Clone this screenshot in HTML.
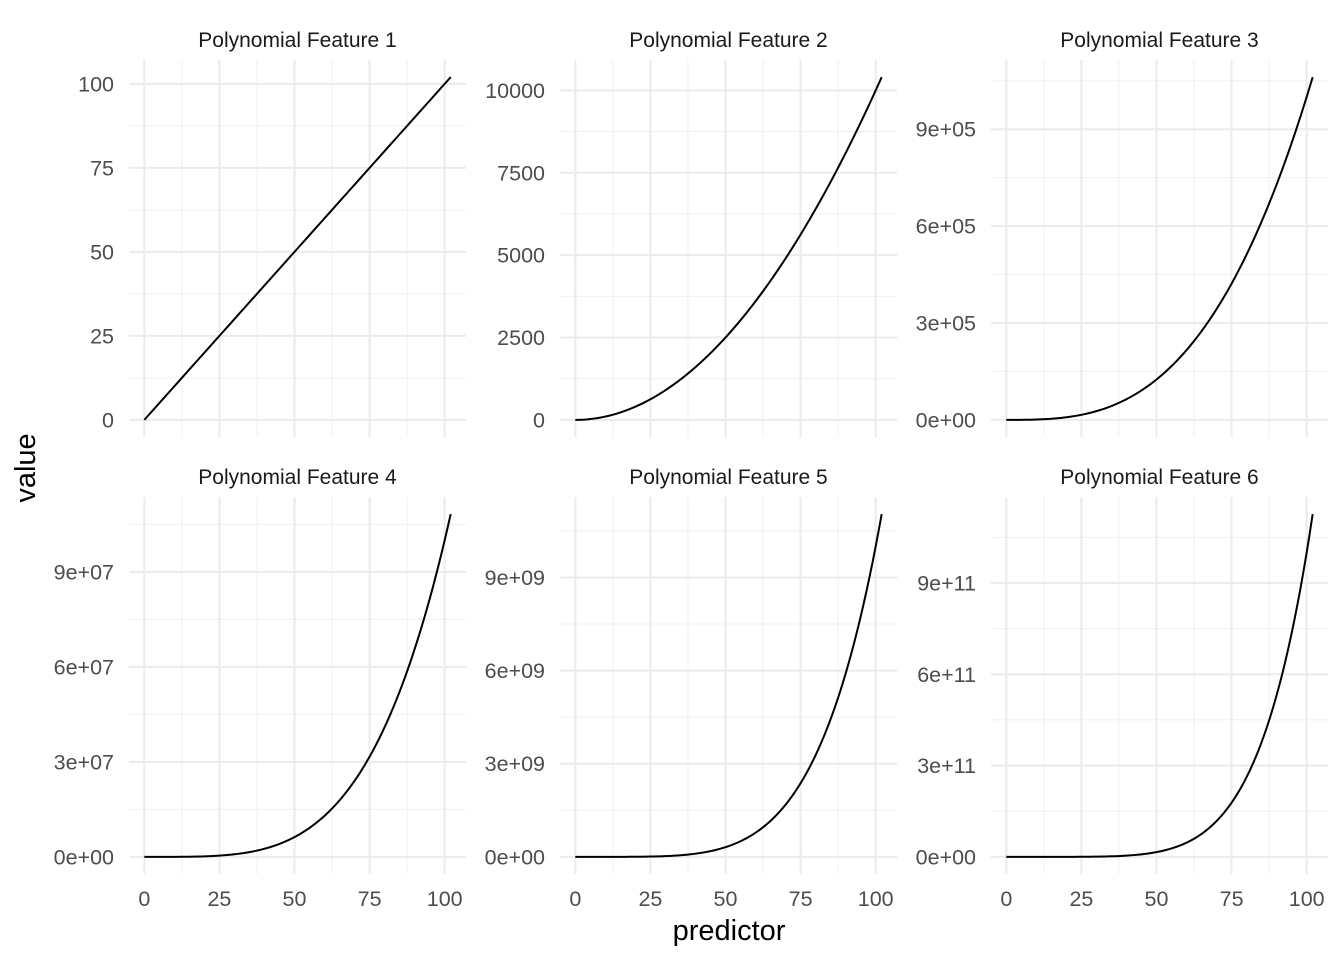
<!DOCTYPE html>
<html><head><meta charset="utf-8"><style>
body{margin:0;background:#fff}
svg text{font-family:"Liberation Sans",Arial,sans-serif}
</style></head><body>
<svg id="c" width="1344" height="960" xmlns="http://www.w3.org/2000/svg">
<text x="729" y="940" font-size="29" text-anchor="middle" fill="#000">predictor</text>
<text transform="translate(35,468) rotate(-90)" font-size="29" text-anchor="middle" fill="#000">value</text>
</svg>
<script>
const predictor = [0,1,2,3,4,5,6,7,8,9,10,11,12,13,14,15,16,17,18,19,20,21,22,23,24,25,26,27,28,29,30,31,32,33,34,35,36,37,38,39,40,41,42,43,44,45,46,47,48,49,50,51,52,53,54,55,56,57,58,59,60,61,62,63,64,65,66,67,68,69,70,71,72,73,74,75,76,77,78,79,80,81,82,83,84,85,86,87,88,89,90,91,92,93,94,95,96,97,98,99,100,101,102];
const degrees = [1,2,3,4,5,6];
const panelTitles = ["Polynomial Feature 1","Polynomial Feature 2","Polynomial Feature 3","Polynomial Feature 4","Polynomial Feature 5","Polynomial Feature 6"];
const xTicks = [0,25,50,75,100];
const yTickValues = [[0,25,50,75,100],[0,2500,5000,7500,10000],[0,3e5,6e5,9e5],[0,3e7,6e7,9e7],[0,3e9,6e9,9e9],[0,3e11,6e11,9e11]];
const yTickLabels = [["0","25","50","75","100"],["0","2500","5000","7500","10000"],["0e+00","3e+05","6e+05","9e+05"],["0e+00","3e+07","6e+07","9e+07"],["0e+00","3e+09","6e+09","9e+09"],["0e+00","3e+11","6e+11","9e+11"]];

const NS="http://www.w3.org/2000/svg", svg=document.getElementById('c');
function mk(t,a,p){const e=document.createElementNS(NS,t);for(const k in a)e.setAttribute(k,a[k]);(p||svg).appendChild(e);return e;}
const lefts=[129,560,991], W=337, tops=[60,497], H=377;
degrees.forEach((d,i)=>{
  const L=lefts[i%3], T=tops[Math.floor(i/3)];
  const ys=predictor.map(x=>Math.pow(x,d));
  const xmin=Math.min(...predictor), xmax=Math.max(...predictor);
  const ymin=Math.min(...ys), ymax=Math.max(...ys);
  const xr=xmax-xmin, yr=ymax-ymin;
  const X=v=>L+(v-(xmin-0.05*xr))/(1.1*xr)*W;
  const Y=v=>T+H-(v-(ymin-0.05*yr))/(1.1*yr)*H;
  const g=mk('g',{});
  
  
  const yt=yTickValues[i], step=yt[1]-yt[0];
  for(let k=-1;k<yt.length+1;k++){const v=yt[0]+step*(k+0.5);const y=Y(v);if(y>T&&y<T+H){const l=mk('line',{x1:L,x2:L+W,y1:y,y2:y,stroke:'#f0f0f0','stroke-width':1},g);}}
  const xs=xTicks[1]-xTicks[0];
  for(let k=-1;k<xTicks.length+1;k++){const v=xTicks[0]+xs*(k+0.5);const x=X(v);if(x>L&&x<L+W){const l=mk('line',{x1:x,x2:x,y1:T,y2:T+H,stroke:'#f0f0f0','stroke-width':1},g);}}
  yt.forEach((v,k)=>{const y=Y(v);
    const l=mk('line',{x1:L,x2:L+W,y1:y,y2:y,stroke:'#ebebeb','stroke-width':2},g);
    
    const t=mk('text',{x:L-15,y:y+7.5,'font-size':21.5,'text-anchor':'end',fill:'#4d4d4d'},g);
    t.textContent=yTickLabels[i][k];
    });
  xTicks.forEach(v=>{const x=X(v);
    const l=mk('line',{x1:x,x2:x,y1:T,y2:T+H,stroke:'#ebebeb','stroke-width':2},g);
    
    if(T>100){const t=mk('text',{x:x,y:906,'font-size':21.5,'text-anchor':'middle',fill:'#4d4d4d'},g);
      t.textContent=String(v);
      }});
  const st=mk('text',{x:L+W/2,y:T-13,'font-size':21,'text-anchor':'middle',fill:'#1a1a1a'},g);
  st.textContent=panelTitles[i];
  
  const p=mk('path',{d:predictor.map((x,k)=>(k?'L':'M')+X(x).toFixed(2)+','+Y(ys[k]).toFixed(2)).join(''),fill:'none',stroke:'#000','stroke-width':2},g);
  
});
</script>
</body></html>
